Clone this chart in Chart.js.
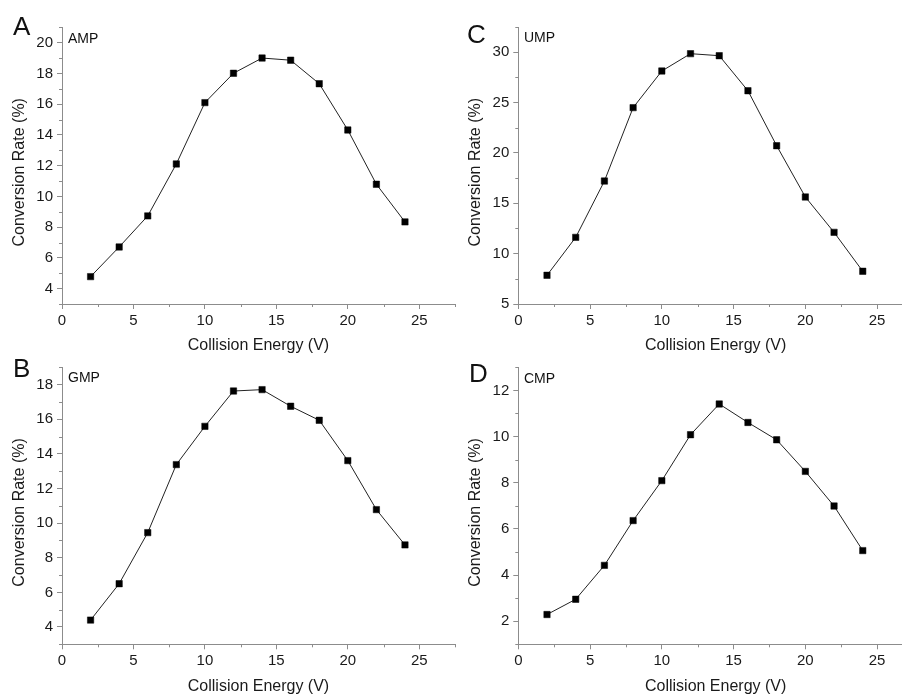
<!DOCTYPE html>
<html>
<head>
<meta charset="utf-8">
<script src="https://cdn.jsdelivr.net/npm/chart.js"></script>
<style>
  html, body { margin: 0; padding: 0; background: #fff; overflow: hidden; }
  body { width: 902px; height: 698px; position: relative; font-family: "Liberation Sans", Arial, sans-serif; color: #111; }
  canvas { position: absolute; }
  .letter { position: absolute; font-size: 26px; line-height: 1; }
  .name { position: absolute; font-size: 14px; line-height: 1; }
</style>
</head>
<body>
<canvas id="chartA" width="460" height="360" style="left:0;top:0"></canvas>
<canvas id="chartC" width="462" height="360" style="left:456px;top:0"></canvas>
<canvas id="chartB" width="460" height="358" style="left:0;top:340px"></canvas>
<canvas id="chartD" width="462" height="358" style="left:456px;top:340px"></canvas>

<div class="letter" style="left:13px;top:13px">A</div>
<div class="name" style="left:68px;top:31px">AMP</div>
<div class="letter" style="left:467px;top:21px">C</div>
<div class="name" style="left:524px;top:30px">UMP</div>
<div class="letter" style="left:13px;top:355px">B</div>
<div class="name" style="left:68px;top:370px">GMP</div>
<div class="letter" style="left:469px;top:360px">D</div>
<div class="name" style="left:524px;top:371px">CMP</div>

<script>
// collision energy (V)
const energy = [2, 4, 6, 8, 10, 12, 14, 16, 18, 20, 22, 24];

// conversion rate (%) per nucleotide
const ampRate = [4.78, 6.71, 8.73, 12.11, 16.1, 18.01, 19.0, 18.86, 17.33, 14.32, 10.79, 8.34];
const umpRate = [7.85, 11.62, 17.21, 24.5, 28.14, 29.86, 29.66, 26.18, 20.72, 15.63, 12.12, 8.25];
const gmpRate = [4.40, 6.50, 9.45, 13.38, 15.59, 17.63, 17.71, 16.75, 15.94, 13.61, 10.78, 8.74];
const cmpRate = [2.29, 2.95, 4.42, 6.36, 8.09, 10.08, 11.41, 10.61, 9.86, 8.49, 6.99, 5.06];

// axis ticks
const xMajor = [0, 5, 10, 15, 20, 25];
const xMinor = [2.5, 7.5, 12.5, 17.5, 22.5, 27.5];
const yMajorA = [4, 6, 8, 10, 12, 14, 16, 18, 20];
const yMinorA = [3, 5, 7, 9, 11, 13, 15, 17, 19, 21];
const yMajorC = [5, 10, 15, 20, 25, 30];
const yMinorC = [7.5, 12.5, 17.5, 22.5, 27.5, 32.5];
const yMajorB = [4, 6, 8, 10, 12, 14, 16, 18];
const yMinorB = [3, 5, 7, 9, 11, 13, 15, 17, 19];
const yMajorD = [2, 4, 6, 8, 10, 12];
const yMinorD = [1, 3, 5, 7, 9, 11, 13];

const axisColor = '#8c8c8c';
const textColor = '#1a1a1a';
const fontFamily = '"Liberation Sans", Arial, sans-serif';

// small ticks between the labelled ones
const minorTicks = {
  id: 'minorTicks',
  afterDraw(chart, args, opts) {
    const { ctx } = chart;
    const x = chart.scales.x, y = chart.scales.y;
    ctx.save();
    ctx.strokeStyle = axisColor;
    ctx.lineWidth = 1;
    ctx.beginPath();
    opts.x.forEach(v => {
      const px = Math.round(x.getPixelForValue(v)) + 0.5;
      ctx.moveTo(px, x.top);
      ctx.lineTo(px, x.top + 3);
    });
    opts.y.forEach(v => {
      const py = Math.round(y.getPixelForValue(v)) + 0.5;
      ctx.moveTo(y.right, py);
      ctx.lineTo(y.right - 3, py);
    });
    ctx.stroke();
    ctx.restore();
  }
};

function makePanel(id, box, area, rates, yMin, yMax, yMajor, yMinor, titlePad) {
  const ctx = document.getElementById(id).getContext('2d');
  const axisWidth = area.left - box.left;
  const axisHeight = box.top + box.height - area.bottom;

  return new Chart(ctx, {
    type: 'line',
    data: {
      datasets: [{
        data: energy.map((e, i) => ({ x: e, y: rates[i] })),
        borderColor: '#222',
        borderWidth: 1,
        pointStyle: 'rect',
        pointRadius: 4.5,
        pointBackgroundColor: '#000',
        pointBorderColor: '#000',
        pointBorderWidth: 0.5,
        tension: 0
      }]
    },
    options: {
      responsive: false,
      animation: false,
      layout: {
        padding: {
          left: 0,
          bottom: 0,
          top: area.top - box.top,
          right: box.left + box.width - area.right
        }
      },
      plugins: {
        legend: { display: false },
        tooltip: { enabled: false },
        minorTicks: { x: xMinor, y: yMinor }
      },
      scales: {
        x: {
          type: 'linear',
          min: 0,
          max: 27.5,
          afterBuildTicks: s => { s.ticks = xMajor.map(v => ({ value: v })); },
          afterFit: s => { s.height = axisHeight; },
          grid: { drawOnChartArea: false, drawTicks: true, tickLength: 5, tickColor: axisColor },
          border: { display: true, color: axisColor, width: 1 },
          ticks: { color: textColor, padding: 3, maxRotation: 0, font: { family: fontFamily, size: 15 } },
          title: {
            display: true,
            text: 'Collision Energy (V)',
            color: textColor,
            padding: { top: 0, bottom: titlePad.x },
            font: { family: fontFamily, size: 16 }
          }
        },
        y: {
          min: yMin,
          max: yMax,
          afterBuildTicks: s => { s.ticks = yMajor.map(v => ({ value: v })); },
          afterFit: s => { s.width = axisWidth; },
          grid: { drawOnChartArea: false, drawTicks: true, tickLength: 5, tickColor: axisColor },
          border: { display: true, color: axisColor, width: 1 },
          ticks: { color: textColor, padding: 4, font: { family: fontFamily, size: 15 } },
          title: {
            display: true,
            // trailing spaces push the centred label a little lower, as in the figure
            text: 'Conversion Rate (%)   ',
            color: textColor,
            padding: { top: titlePad.y, bottom: 0 },
            font: { family: fontFamily, size: 16 }
          }
        }
      }
    },
    plugins: [minorTicks]
  });
}

makePanel('chartA', { left: 0, top: 0, width: 460, height: 360 },
  { left: 62, right: 456.3, top: 27.3, bottom: 304 },
  ampRate, 3, 21, yMajorA, yMinorA, { x: 4.4, y: 10.4 });

makePanel('chartC', { left: 456, top: 0, width: 462, height: 360 },
  { left: 518.3, right: 913.8, top: 27.1, bottom: 304 },
  umpRate, 5, 32.5, yMajorC, yMinorC, { x: 4.4, y: 9.9 });

makePanel('chartB', { left: 0, top: 340, width: 460, height: 358 },
  { left: 62, right: 456.3, top: 367.3, bottom: 644.3 },
  gmpRate, 3, 19, yMajorB, yMinorB, { x: 1.4, y: 10.4 });

makePanel('chartD', { left: 456, top: 340, width: 462, height: 358 },
  { left: 518.3, right: 913.8, top: 367.3, bottom: 644.3 },
  cmpRate, 1, 13, yMajorD, yMinorD, { x: 1.4, y: 9.9 });
</script>
</body>
</html>
